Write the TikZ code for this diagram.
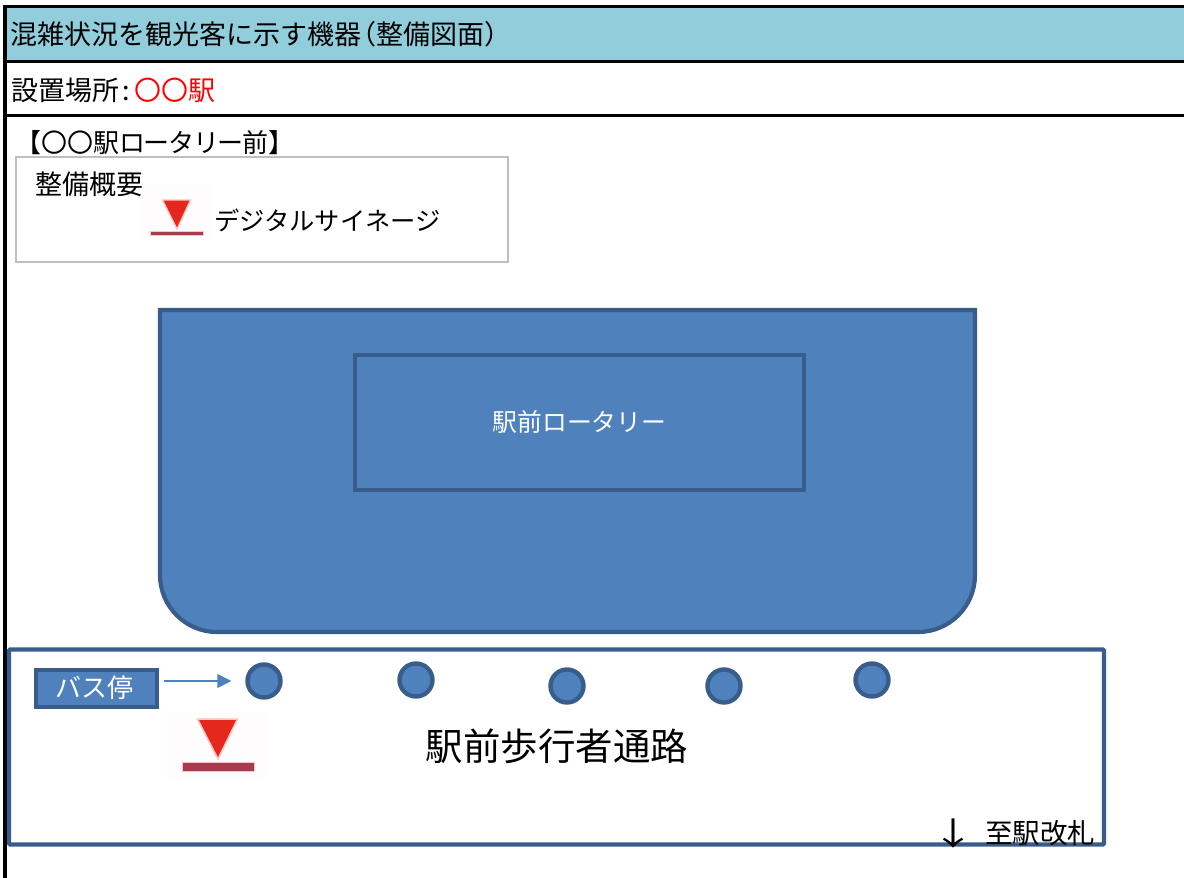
\documentclass[tikz,border=0pt]{standalone}
\usepackage{fontspec}
\usepackage{graphicx}
\setmainfont{Noto Sans CJK JP}
\newcommand{\fs}[1]{\fontsize{#1}{#1}\selectfont}
\definecolor{hdr}{HTML}{92CDDC}
\definecolor{shfill}{HTML}{4F81BD}
\definecolor{shline}{HTML}{385D8A}
\definecolor{mkred}{HTML}{E4281C}
\definecolor{mkbar}{HTML}{A83A50}
\definecolor{mkhalo}{HTML}{FFC4BC}
\definecolor{mkbg}{HTML}{FFFCFD}
\usetikzlibrary{arrows.meta}
\tikzset{
  rule/.style={line width=3pt,black},
  txt/.style={inner sep=0pt,anchor=west,text=black},
  shapebox/.style={fill=shfill,draw=shline,line width=4.2pt},
  stop/.style={circle,fill=shfill,draw=shline,line width=4.4pt,minimum size=33pt,inner sep=0pt},
}
\begin{document}
\begin{tikzpicture}[x=1pt,y=-1pt]
\useasboundingbox (0,0) rectangle (1184,878);
% header
\fill[hdr] (5,7) rectangle (1184,60);
\draw[rule] (3.5,6.5) -- (1184,6.5);
\draw[rule] (3.5,61.5) -- (1184,61.5);
\draw[rule] (3.5,115.5) -- (1184,115.5);
\draw[line width=3.5pt] (5,5) -- (5,878);
\node[txt] (title) at (10,34) {\fs{27}混雑状況を観光客に示す機器\kern-12pt（整備図面）};
\node[txt] (place) at (11,90) {\fs{27}設置場所\kern3pt:\kern5pt\textcolor{red}{〇〇駅}};
\node[txt] (area) at (15,143) {\fs{26}【〇〇駅ロ\kern-1.4ptー\kern-1.4ptタ\kern-1.4ptリ\kern-1.4ptー\kern-1.4pt前】};
% legend
\node[draw=black!25,line width=1.5pt,fill=white,minimum width=492pt,minimum height=105pt,inner sep=0pt,anchor=north west] (legend) at (15,156) {};
\node[txt] (gaiyo) at (35,184) {\fs{27}整備概要};
\fill[mkbg] (142,183) rectangle (212,241);
\fill[mkred,draw=mkhalo,line width=1.2pt] (162.5,200) -- (190.5,200) -- (177,229) -- cycle;
\fill[mkbar,draw=mkhalo,line width=.8pt] (150,231) rectangle (203,235);
\node[txt] (sig) at (214,220) {\fs{25.3}デジタルサイネージ};
% rotary
\draw[shapebox] (160,310) -- (975,310) -- (975,575) arc (0:90:57) -- (217,632) arc (90:180:57) -- cycle;
\node[shapebox,minimum width=449pt,minimum height=135pt,anchor=north west,inner sep=0pt] (rot) at (353,352.5) {};
\node[inner sep=0pt,text=white] (rotlabel) at (579.5,422) {\fs{24.8}駅前ロータリー};
% walkway
\draw[draw=shline,line width=4.2pt,fill=white,rounded corners=1pt] (9,649.5) rectangle (1104,844.5);
\fill[mkbg] (167,712) rectangle (267,779);
\fill[mkred,draw=mkhalo,line width=1.5pt] (197.5,719) -- (237.5,719) -- (218,759) -- cycle;
\fill[mkbar,draw=mkhalo,line width=1pt] (182,762.5) rectangle (254,771);
\node[stop] (s1) at (264,681) {};
\node[stop] (s2) at (416,680) {};
\node[stop] (s3) at (567,686) {};
\node[stop] (s4) at (724,686) {};
\node[stop] (s5) at (872,680) {};
\node[shapebox,minimum width=121pt,minimum height=37pt,inner sep=0pt,anchor=north west,text=white] (bus) at (33.5,667.5) {\fs{26}\kern-3ptバス停};
\coordinate (arrstart) at (bus.east |- s1.west);
\draw[shfill,line width=1.4pt,-{Triangle[length=14pt,width=14pt]}] ([xshift=5pt]arrstart) -- ([xshift=-14pt]s1.west);
\node[inner sep=0pt,text=black] (walk) at (557,746) {\fs{37.5}駅前歩行者通路};
\node[inner sep=0pt,text=black] (arr) at (953,834) {\scalebox{1}[0.72]{\fs{44}↓}};
\node[txt] (kai) at (985,833) {\fs{27.5}至駅改札};
\end{tikzpicture}
\end{document}
